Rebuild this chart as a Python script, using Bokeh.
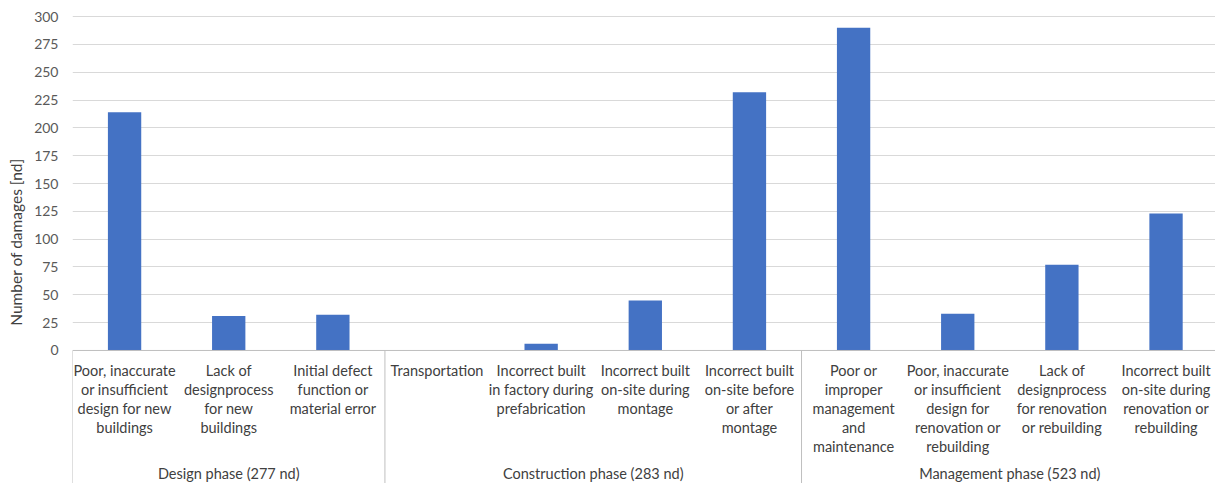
import numpy as np
from bokeh.plotting import figure
from bokeh.models import ColumnDataSource, FixedTicker, Range1d
from bokeh.core.properties import value
from bokeh.embed import file_html
from bokeh.resources import INLINE

# ---- data ----
categories = [
    "Poor, inaccurate\nor insufficient\ndesign for new\nbuildings",
    "Lack of\ndesignprocess\nfor new\nbuildings",
    "Initial defect\nfunction or\nmaterial error",
    "Transportation",
    "Incorrect built\nin factory during\nprefabrication",
    "Incorrect built\non-site during\nmontage",
    "Incorrect built\non-site before\nor after\nmontage",
    "Poor or\nimproper\nmanagement\nand\nmaintenance",
    "Poor, inaccurate\nor insufficient\ndesign for\nrenovation or\nrebuilding",
    "Lack of\ndesignprocess\nfor renovation\nor rebuilding",
    "Incorrect built\non-site during\nrenovation or\nrebuilding",
]
damages = [214, 31, 32, 0, 6, 45, 232, 290, 33, 77, 123]
phases = ["Design phase (277 nd)", "Construction phase (283 nd)", "Management phase (523 nd)"]
phase_sizes = [3, 4, 4]
y_ticks = list(range(0, 301, 25))

FONT = "Lato"
TXT = "#404040"
FS = "14.5px"

n = len(categories)
xc = np.arange(n) + 0.5

p = figure(width=1215, height=483, output_backend="svg", toolbar_location=None,
           x_range=Range1d(0, 10.975), y_range=Range1d(-119.5, 314.4),
           min_border_left=72, min_border_right=0, min_border_top=0, min_border_bottom=0)
p.outline_line_color = None
p.background_fill_color = "white"
p.border_fill_color = "white"
p.xaxis.visible = False
p.xgrid.visible = False

yaxis = p.yaxis[0]
yaxis.ticker = FixedTicker(ticks=y_ticks)
yaxis.axis_line_color = None
yaxis.major_tick_line_color = None
yaxis.minor_tick_line_color = None
yaxis.major_tick_out = 0
yaxis.major_tick_in = 0
yaxis.major_label_text_font = FONT
yaxis.major_label_text_font_size = "14px"
yaxis.major_label_text_color = "#595959"
yaxis.major_label_standoff = 14
yaxis.axis_label = "Number of damages [nd]"
yaxis.axis_label_text_font = FONT
yaxis.axis_label_text_font_size = "15.5px"
yaxis.axis_label_text_font_style = "normal"
yaxis.axis_label_text_color = TXT
yaxis.axis_label_standoff = 6

p.ygrid.ticker = FixedTicker(ticks=y_ticks[1:])
p.ygrid.grid_line_color = "#d9d9d9"
p.ygrid.grid_line_width = 1

# bars
src = ColumnDataSource(dict(x=xc, top=damages))
p.vbar(x="x", top="top", bottom=0, width=0.32, source=src, fill_color="#4472C4", line_color=None)

# axis baseline
p.segment(x0=[0], x1=[n], y0=[0], y1=[0], line_color="#bfbfbf", line_width=1)

# group separators
bounds = np.concatenate([[0], np.cumsum(phase_sizes)])
p.segment(x0=bounds, x1=bounds, y0=[0] * len(bounds), y1=[-200] * len(bounds),
          line_color="#bfbfbf", line_width=1)

# category labels (one text per line)
lx, ly, lt, loff = [], [], [], []
for i, lab in enumerate(categories):
    for j, line in enumerate(lab.split("\n")):
        lx.append(xc[i]); ly.append(0); lt.append(line); loff.append(20 + 19 * j)
p.text(x=lx, y=ly, text=lt, y_offset=loff, text_align="center", text_baseline="middle",
       text_font=value(FONT), text_font_size=FS, text_color=TXT)

# phase labels
centers = [(bounds[k] + bounds[k + 1]) / 2 for k in range(len(phases))]
p.text(x=centers, y=[0] * len(phases), text=phases, y_offset=[123] * len(phases),
       text_align="center", text_baseline="middle",
       text_font=value(FONT), text_font_size=FS, text_color=TXT)

open("out.html", "w").write(file_html(p, INLINE))
